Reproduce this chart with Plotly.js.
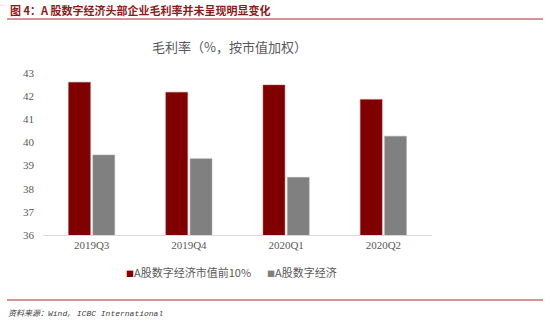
<!DOCTYPE html>
<html>
<head>
<meta charset="utf-8">
<script src="https://cdn.plot.ly/plotly-3.0.1.min.js"></script>
<style>html,body{margin:0;padding:0;background:#fff;}#chart{width:550px;height:323px;}</style>
</head>
<body>
<div id="chart"></div>
<script>
const categories = ["2019Q3", "2019Q4", "2020Q1", "2020Q2"];
const seriesTop10 = [42.6, 42.17, 42.48, 41.86];
const seriesAll = [39.46, 39.3, 38.49, 40.27];
const seriesNames = ["A股数字经济市值前10%", "A股数字经济"];
const seriesColors = ["#800000", "#808080"];
const yTicks = [36, 37, 38, 39, 40, 41, 42, 43];

const serif = "Liberation Serif, 'Noto Sans CJK SC', serif";
const cjk = "'Noto Sans CJK SC', sans-serif";

const traces = [
  {type: "bar", x: categories, y: seriesTop10, name: seriesNames[0],
   marker: {color: seriesColors[0], line: {color: "#b05050", width: 0.5}}},
  {type: "bar", x: categories, y: seriesAll, name: seriesNames[1],
   marker: {color: seriesColors[1], line: {color: "#a6a6a6", width: 0.5}}}
];

const px = (x) => (x - 43) / 389;
const py = (y) => (235 - y) / 162;

const legendAnn = seriesNames.map((n, i) => ({
  text: '<span style="font-size:8px;color:' + seriesColors[i] + '">■</span>' + n,
  xref: "paper", yref: "paper", x: px(i === 0 ? 124 : 265), y: py(272),
  xanchor: "left", yanchor: "middle", showarrow: false,
  font: {family: cjk, size: 11, color: "#595959"}
}));

const layout = {
  width: 550, height: 323,
  margin: {l: 43, r: 118, t: 73, b: 88},
  paper_bgcolor: "#fff", plot_bgcolor: "#fff",
  barmode: "group", bargap: 0.5, bargroupgap: 0.1,
  showlegend: false,
  xaxis: {type: "category", showline: true, linecolor: "#d9d9d9", linewidth: 1,
          ticks: "", showgrid: false, zeroline: false,
          tickfont: {family: serif, size: 11, color: "#595959"}},
  yaxis: {range: [36, 43], tickvals: yTicks, showgrid: false, zeroline: false,
          showline: false, ticks: "", ticklabelstandoff: 8,
          tickfont: {family: serif, size: 11, color: "#595959"}},
  annotations: [
    {text: "<b>图 4：A 股数字经济头部企业毛利率并未呈现明显变化</b>", xref: "paper", yref: "paper",
     x: px(8), y: py(10), xanchor: "left", yanchor: "middle",
     showarrow: false, font: {family: cjk, size: 11, color: "#8b1a1a"}},
    {text: "毛利率（%，按市值加权）", xref: "paper", yref: "paper",
     x: px(229), y: py(47), xanchor: "center", yanchor: "middle",
     showarrow: false, font: {family: cjk, size: 13, color: "#595959"}},
    {text: "<i>资料来源：Wind, ICBC International</i>", xref: "paper", yref: "paper",
     x: px(6), y: py(313), xanchor: "left", yanchor: "middle",
     showarrow: false, font: {family: "Liberation Mono, 'Noto Sans CJK SC', monospace", size: 8, color: "#404040"}}
  ].concat(legendAnn),
  shapes: [
    {type: "line", xref: "paper", yref: "paper", x0: px(7), x1: px(543),
     y0: py(19), y1: py(19), line: {color: "#c97070", width: 1.5}},
    {type: "line", xref: "paper", yref: "paper", x0: px(7), x1: px(543),
     y0: py(300), y1: py(300), line: {color: "#c97070", width: 1.5}}
  ]
};

Plotly.newPlot("chart", traces, layout, {displayModeBar: false, staticPlot: true});
</script>
</body>
</html>
